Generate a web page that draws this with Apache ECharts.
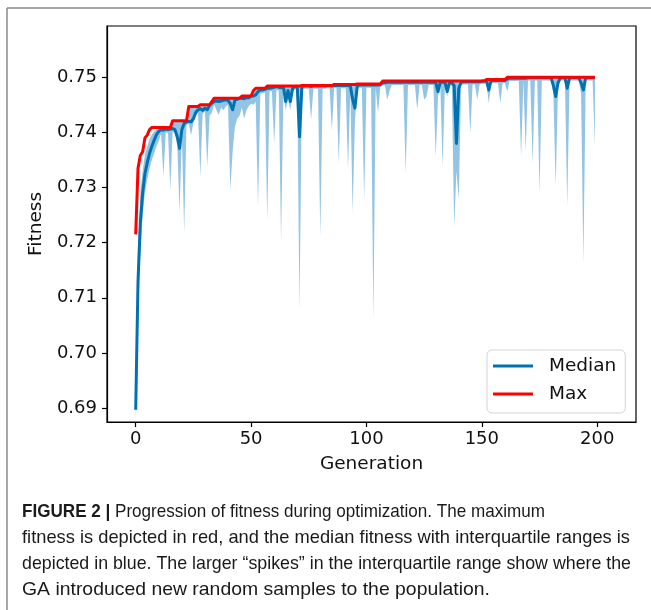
<!DOCTYPE html>
<html>
<head>
<meta charset="utf-8">
<script src="https://cdn.jsdelivr.net/npm/echarts@6/dist/echarts.min.js"></script>
<style>
html,body{margin:0;padding:0;background:#fff;}
#chart{width:651px;height:610px;}
</style>
</head>
<body>
<div id="chart"></div>
<script>
// ---- data ----
const xTicks = [0, 50, 100, 150, 200];
const yTicks = [0.69, 0.70, 0.71, 0.72, 0.73, 0.74, 0.75];

const medianFitness = [
0.6897,0.7130,0.7235,0.7290,0.7325,0.7345,0.7362,0.7375,0.7386,0.7396,
0.7402,0.7405,0.7404,0.7406,0.7405,0.7406,0.7407,0.7405,0.7392,0.7371,
0.7405,0.7416,0.7419,0.7420,0.7419,0.7425,0.7436,0.7441,0.7443,0.7440,
0.7444,0.7441,0.7449,0.7453,0.7456,0.7457,0.7456,0.7457,0.7458,0.7459,
0.7458,0.7452,0.7441,0.7459,0.7460,0.7462,0.7462,0.7461,0.7463,0.7463,
0.7466,0.7466,0.7468,0.7474,0.7477,0.7477,0.7478,0.7480,0.7480,0.7481,
0.7482,0.7483,0.7482,0.7481,0.7483,0.7456,0.7476,0.7456,0.7480,0.7483,
0.7483,0.7392,0.7483,0.7484,0.7484,0.7484,0.7483,0.7484,0.7484,0.7484,
0.7484,0.7484,0.7484,0.7485,0.7485,0.7484,0.7485,0.7485,0.7485,0.7485,
0.7485,0.7485,0.7485,0.7484,0.7460,0.7444,0.7484,0.7486,0.7486,0.7486,
0.7486,0.7486,0.7486,0.7486,0.7486,0.7486,0.7487,0.7490,0.7490,0.7491,
0.7491,0.7491,0.7491,0.7491,0.7491,0.7491,0.7491,0.7491,0.7491,0.7491,
0.7491,0.7491,0.7491,0.7491,0.7491,0.7491,0.7491,0.7491,0.7491,0.7491,
0.7491,0.7474,0.7491,0.7491,0.7491,0.7474,0.7491,0.7490,0.7485,0.7380,
0.7480,0.7491,0.7492,0.7492,0.7492,0.7492,0.7492,0.7492,0.7492,0.7492,
0.7493,0.7493,0.7494,0.7477,0.7494,0.7494,0.7494,0.7494,0.7494,0.7494,
0.7494,0.7497,0.7498,0.7498,0.7498,0.7498,0.7498,0.7498,0.7498,0.7498,
0.7499,0.7499,0.7499,0.7499,0.7499,0.7499,0.7499,0.7499,0.7499,0.7499,
0.7499,0.7485,0.7465,0.7490,0.7499,0.7499,0.7499,0.7480,0.7499,0.7499,
0.7499,0.7499,0.7499,0.7490,0.7477,0.7499,0.7499,0.7499,0.7499,0.7499
];

const maxFitness = [
0.7215,0.7335,0.7358,0.7365,0.7390,0.7395,0.7405,0.7409,0.7409,0.7409,
0.7409,0.7409,0.7409,0.7409,0.7409,0.7409,0.7421,0.7421,0.7421,0.7421,
0.7421,0.7421,0.7421,0.7447,0.7447,0.7447,0.7447,0.7447,0.7450,0.7450,
0.7450,0.7450,0.7450,0.7456,0.7462,0.7462,0.7462,0.7462,0.7462,0.7462,
0.7462,0.7462,0.7462,0.7462,0.7462,0.7462,0.7466,0.7466,0.7466,0.7466,
0.7466,0.7476,0.7480,0.7480,0.7480,0.7480,0.7480,0.7484,0.7484,0.7484,
0.7484,0.7484,0.7484,0.7484,0.7484,0.7484,0.7484,0.7484,0.7484,0.7484,
0.7484,0.7484,0.7485,0.7485,0.7485,0.7485,0.7485,0.7485,0.7485,0.7485,
0.7485,0.7485,0.7485,0.7485,0.7485,0.7485,0.7487,0.7487,0.7487,0.7487,
0.7487,0.7487,0.7487,0.7487,0.7487,0.7487,0.7488,0.7488,0.7488,0.7488,
0.7488,0.7488,0.7488,0.7488,0.7488,0.7488,0.7488,0.7493,0.7493,0.7493,
0.7493,0.7493,0.7493,0.7493,0.7493,0.7493,0.7493,0.7493,0.7493,0.7493,
0.7493,0.7493,0.7493,0.7493,0.7493,0.7493,0.7493,0.7493,0.7493,0.7493,
0.7493,0.7493,0.7493,0.7493,0.7493,0.7493,0.7493,0.7493,0.7493,0.7493,
0.7493,0.7493,0.7493,0.7493,0.7493,0.7493,0.7493,0.7493,0.7493,0.7493,
0.7493,0.7493,0.7496,0.7496,0.7496,0.7496,0.7496,0.7496,0.7496,0.7496,
0.7496,0.7500,0.7500,0.7500,0.7500,0.7500,0.7500,0.7500,0.7500,0.7500,
0.7500,0.7500,0.7500,0.7500,0.7500,0.7500,0.7500,0.7500,0.7500,0.7500,
0.7500,0.7500,0.7500,0.7500,0.7500,0.7500,0.7500,0.7500,0.7500,0.7500,
0.7500,0.7500,0.7500,0.7500,0.7500,0.7500,0.7500,0.7500,0.7500,0.7500
];

const q1Fitness = [
0.6876,0.7060,0.7180,0.7250,0.7290,0.7315,0.7335,0.7350,0.7362,0.7375,
0.7385,0.7398,0.7320,0.7400,0.7399,0.7296,0.7402,0.7398,0.7380,0.7254,
0.7398,0.7218,0.7414,0.7415,0.7395,0.7418,0.7430,0.7436,0.7320,0.7434,
0.7438,0.7338,0.7430,0.7436,0.7450,0.7440,0.7432,0.7445,0.7440,0.7447,
0.7450,0.7296,0.7366,0.7410,0.7425,0.7430,0.7445,0.7425,0.7440,0.7448,
0.7452,0.7450,0.7455,0.7266,0.7470,0.7471,0.7472,0.7241,0.7474,0.7475,
0.7380,0.7477,0.7476,0.7202,0.7476,0.7440,0.7462,0.7440,0.7474,0.7478,
0.7479,0.7078,0.7478,0.7479,0.7479,0.7479,0.7423,0.7479,0.7479,0.7479,
0.7209,0.7479,0.7479,0.7480,0.7480,0.7404,0.7480,0.7480,0.7344,0.7480,
0.7480,0.7480,0.7333,0.7479,0.7254,0.7420,0.7479,0.7481,0.7481,0.7278,
0.7481,0.7481,0.7481,0.7060,0.7481,0.7435,0.7482,0.7485,0.7485,0.7459,
0.7475,0.7486,0.7486,0.7486,0.7486,0.7486,0.7486,0.7326,0.7486,0.7486,
0.7486,0.7486,0.7441,0.7486,0.7486,0.7459,0.7465,0.7486,0.7486,0.7486,
0.7356,0.7465,0.7486,0.7338,0.7486,0.7465,0.7486,0.7484,0.7229,0.7330,
0.7278,0.7486,0.7487,0.7487,0.7487,0.7398,0.7487,0.7487,0.7459,0.7487,
0.7488,0.7488,0.7489,0.7453,0.7489,0.7489,0.7489,0.7489,0.7453,0.7489,
0.7489,0.7474,0.7493,0.7493,0.7493,0.7493,0.7493,0.7356,0.7493,0.7366,
0.7494,0.7494,0.7344,0.7494,0.7494,0.7290,0.7494,0.7494,0.7494,0.7494,
0.7494,0.7470,0.7302,0.7480,0.7494,0.7494,0.7494,0.7266,0.7494,0.7494,
0.7494,0.7494,0.7494,0.7470,0.7163,0.7494,0.7494,0.7494,0.7494,0.7374
];

const q3Fitness = [
0.6940,0.7200,0.7290,0.7330,0.7360,0.7375,0.7388,0.7396,0.7402,0.7405,
0.7407,0.7409,0.7409,0.7409,0.7409,0.7409,0.7421,0.7421,0.7421,0.7421,
0.7421,0.7421,0.7421,0.7447,0.7447,0.7447,0.7447,0.7447,0.7450,0.7450,
0.7450,0.7450,0.7450,0.7456,0.7462,0.7462,0.7462,0.7462,0.7462,0.7462,
0.7462,0.7462,0.7462,0.7462,0.7462,0.7462,0.7466,0.7466,0.7466,0.7466,
0.7466,0.7476,0.7480,0.7480,0.7480,0.7480,0.7480,0.7484,0.7484,0.7484,
0.7484,0.7484,0.7484,0.7484,0.7484,0.7484,0.7484,0.7484,0.7484,0.7484,
0.7484,0.7484,0.7485,0.7485,0.7485,0.7485,0.7485,0.7485,0.7485,0.7485,
0.7485,0.7485,0.7485,0.7485,0.7485,0.7485,0.7487,0.7487,0.7487,0.7487,
0.7487,0.7487,0.7487,0.7487,0.7487,0.7487,0.7488,0.7488,0.7488,0.7488,
0.7488,0.7488,0.7488,0.7488,0.7488,0.7488,0.7488,0.7493,0.7493,0.7493,
0.7493,0.7493,0.7493,0.7493,0.7493,0.7493,0.7493,0.7493,0.7493,0.7493,
0.7493,0.7493,0.7493,0.7493,0.7493,0.7493,0.7493,0.7493,0.7493,0.7493,
0.7493,0.7493,0.7493,0.7493,0.7493,0.7493,0.7493,0.7493,0.7493,0.7493,
0.7493,0.7493,0.7493,0.7493,0.7493,0.7493,0.7493,0.7493,0.7493,0.7493,
0.7493,0.7493,0.7496,0.7496,0.7496,0.7496,0.7496,0.7496,0.7496,0.7496,
0.7496,0.7500,0.7500,0.7500,0.7500,0.7500,0.7500,0.7500,0.7500,0.7500,
0.7500,0.7500,0.7500,0.7500,0.7500,0.7500,0.7500,0.7500,0.7500,0.7500,
0.7500,0.7500,0.7500,0.7500,0.7500,0.7500,0.7500,0.7500,0.7500,0.7500,
0.7500,0.7500,0.7500,0.7500,0.7500,0.7500,0.7500,0.7500,0.7500,0.7500
];

const captionBold = 'FIGURE 2 | ';
const captionLines = [
  'Progression of fitness during optimization. The maximum',
  'fitness is depicted in red, and the median fitness with interquartile ranges is',
  'depicted in blue. The larger \u201cspikes\u201d in the interquartile range show where the',
  'GA introduced new random samples to the population.'
];
// widths (px) the caption lines occupy in the original (narrow typeface)
const captionWidths = [523, 608, 609, 468];

// ---- build series data ----
const gens = medianFitness.map((_, i) => i);
const medData = gens.map(g => [g, medianFitness[g]]);
const maxData = gens.map(g => [g, maxFitness[g]]);

const FONT = "'DejaVu Sans', sans-serif";
const CAP_FAMILY = "'Liberation Sans', Arial, sans-serif";
const CAP_SIZE = 19;
const CAP_COLOR = '#1a1a1a';

const mctx = document.createElement('canvas').getContext('2d');
function textW(t, bold) {
  mctx.font = (bold ? 'bold ' : '') + CAP_SIZE + 'px ' + CAP_FAMILY;
  return mctx.measureText(t).width;
}

const chart = echarts.init(document.getElementById('chart'), null, {renderer: 'canvas'});

const captionGraphics = [];
const w0 = textW(captionBold, true) + textW(captionLines[0], false);
captionGraphics.push({
  type: 'text', x: 22, y: 502, scaleX: captionWidths[0] / w0, originX: 0,
  style: {
    rich: {
      b: {fontFamily: CAP_FAMILY, fontSize: CAP_SIZE, fontWeight: 'bold', fill: CAP_COLOR},
      n: {fontFamily: CAP_FAMILY, fontSize: CAP_SIZE, fill: CAP_COLOR}
    },
    text: '{b|' + captionBold + '}{n|' + captionLines[0] + '}'
  }
});
for (let i = 1; i < captionLines.length; i++) {
  captionGraphics.push({
    type: 'text', x: 22, y: 502 + 26 * i, scaleX: captionWidths[i] / textW(captionLines[i], false), originX: 0,
    style: {text: captionLines[i], fontFamily: CAP_FAMILY, fontSize: CAP_SIZE, fill: CAP_COLOR}
  });
}

chart.setOption({
  animation: false,
  backgroundColor: '#fff',
  grid: {left: 107, right: 15, top: 26, bottom: 188, show: true, borderColor: '#000', borderWidth: 1.2, backgroundColor: 'transparent'},
  xAxis: {
    type: 'value', min: -12.44, max: 216.8,
    name: 'Generation', nameLocation: 'middle', nameGap: 33,
    nameTextStyle: {fontFamily: FONT, fontSize: 18.5, color: '#111'},
    axisLine: {show: true, onZero: false, lineStyle: {color: '#000', width: 1.2}},
    axisTick: {show: true, length: 5, lineStyle: {color: '#000', width: 1.2}, customValues: xTicks},
    axisLabel: {fontFamily: FONT, fontSize: 18, color: '#111', margin: 8, customValues: xTicks},
    splitLine: {show: false}
  },
  yAxis: {
    type: 'value', min: 0.68746, max: 0.7593,
    name: 'Fitness', nameLocation: 'middle', nameGap: 56,
    nameTextStyle: {fontFamily: FONT, fontSize: 18.5, color: '#111'},
    axisLine: {show: true, onZero: false, lineStyle: {color: '#000', width: 1.2}},
    axisTick: {show: true, length: 5, lineStyle: {color: '#000', width: 1.2}, customValues: yTicks},
    axisLabel: {fontFamily: FONT, fontSize: 18, color: '#111', margin: 10, customValues: yTicks,
      formatter: v => v.toFixed(2)},
    splitLine: {show: false}
  },
  legend: {
    data: [{name: 'Median', icon: 'rect'}, {name: 'Max', icon: 'rect'}],
    orient: 'vertical', left: 487, top: 350,
    itemWidth: 40, itemHeight: 3, itemGap: 8,
    padding: [6, 9, 9, 6],
    backgroundColor: '#fff', borderColor: '#d4d4d4', borderWidth: 1, borderRadius: 5,
    textStyle: {fontFamily: FONT, fontSize: 18.5, color: '#111', lineHeight: 20, padding: [0, 0, 0, 11]}
  },
  graphic: [
    {type: 'line', shape: {x1: 7, y1: 8, x2: 651, y2: 8}, style: {stroke: '#8a8a8a', lineWidth: 1.5}},
    {type: 'line', shape: {x1: 7, y1: 8, x2: 7, y2: 610}, style: {stroke: '#8a8a8a', lineWidth: 1.5}}
  ].concat(captionGraphics),
  series: [
    {
      name: 'IQR', type: 'custom', coordinateSystem: 'cartesian2d', silent: true, clip: true,
      data: [[0, q1Fitness[0]]], encode: {x: 0, y: 1}, z: 1,
      renderItem: function (params, api) {
        const pts = [];
        for (let g = 0; g < gens.length; g++) pts.push(api.coord([gens[g], q1Fitness[g]]));
        for (let g = gens.length - 1; g >= 0; g--) pts.push(api.coord([gens[g], q3Fitness[g]]));
        return {type: 'polygon', shape: {points: pts}, style: {fill: '#93c4e3', stroke: 'none'}};
      }
    },
    {name: 'Median', type: 'line', data: medData, symbol: 'none', color: '#0072b2', z: 3,
      lineStyle: {width: 3, color: '#0072b2', join: 'round'}},
    {name: 'Max', type: 'line', data: maxData, symbol: 'none', color: '#ff0000', z: 4,
      lineStyle: {width: 3, color: '#ff0000', join: 'round'}}
  ]
});
</script>
</body>
</html>
